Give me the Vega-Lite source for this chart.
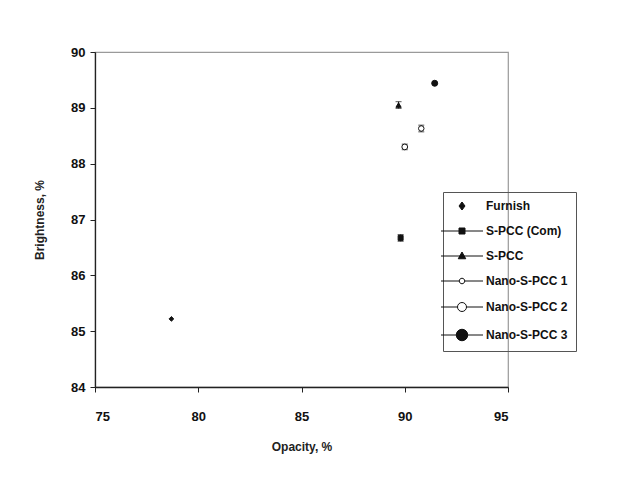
{
  "$schema": "https://vega.github.io/schema/vega-lite/v6.json",
  "width": 413,
  "height": 335,
  "autosize": {"type": "none"},
  "padding": {"left": 95, "top": 52, "right": 123, "bottom": 101},
  "background": "white",
  "data": {
    "values": [
      {"sample": "Furnish", "opacity": 78.7, "brightness": 85.22, "err": 0},
      {"sample": "S-PCC (Com)", "opacity": 89.8, "brightness": 86.67, "err": 0.06},
      {"sample": "S-PCC", "opacity": 89.7, "brightness": 89.05, "err": 0.06},
      {"sample": "Nano-S-PCC 1", "opacity": 90.8, "brightness": 88.63, "err": 0.06},
      {"sample": "Nano-S-PCC 2", "opacity": 90.0, "brightness": 88.3, "err": 0.05},
      {"sample": "Nano-S-PCC 3", "opacity": 91.45, "brightness": 89.44, "err": 0}
    ]
  },
  "config": {
    "font": "Liberation Sans",
    "view": {"stroke": "#9a9a9a", "strokeWidth": 1.2},
    "axis": {
      "grid": false,
      "domainColor": "#222",
      "domainWidth": 1.3,
      "tickColor": "#222",
      "tickSize": 5,
      "labelFont": "Liberation Sans",
      "labelFontSize": 13,
      "labelFontWeight": "bold",
      "labelColor": "#111",
      "titleFont": "Liberation Sans",
      "titleFontSize": 12,
      "titleFontWeight": "bold",
      "titleColor": "#222"
    }
  },
  "resolve": {"scale": {"shape": "independent", "fill": "independent", "size": "independent", "stroke": "independent"}},
  "layer": [
    {
      "transform": [{"filter": "datum.err > 0"}],
      "mark": {"type": "errorbar", "ticks": {"size": 6, "color": "#111"}, "color": "#111"},
      "encoding": {
        "x": {"field": "opacity", "type": "quantitative", "title": "Opacity, %"},
        "y": {"field": "brightness", "type": "quantitative", "title": "Brightness, %"},
        "yError": {"field": "err"}
      }
    },
    {
      "mark": {"type": "point", "filled": true, "stroke": "#111", "strokeWidth": 1, "opacity": 1},
      "encoding": {
        "x": {
          "field": "opacity",
          "type": "quantitative",
          "scale": {"domain": [75, 95], "nice": false, "zero": false},
          "axis": {"values": [75, 80, 85, 90, 95], "format": "d", "labelPadding": 18, "titlePadding": 18, "title": "Opacity, %"}
        },
        "y": {
          "field": "brightness",
          "type": "quantitative",
          "scale": {"domain": [84, 90], "nice": false, "zero": false},
          "axis": {"values": [84, 85, 86, 87, 88, 89, 90], "format": "d", "labelPadding": 5, "titlePadding": 24, "title": "Brightness, %"}
        },
        "shape": {
          "field": "sample",
          "type": "nominal",
          "legend": null,
          "scale": {
            "domain": ["Furnish", "S-PCC (Com)", "S-PCC", "Nano-S-PCC 1", "Nano-S-PCC 2", "Nano-S-PCC 3"],
            "range": ["diamond", "square", "triangle-up", "circle", "circle", "circle"]
          }
        },
        "fill": {
          "field": "sample",
          "type": "nominal",
          "legend": null,
          "scale": {
            "domain": ["Furnish", "S-PCC (Com)", "S-PCC", "Nano-S-PCC 1", "Nano-S-PCC 2", "Nano-S-PCC 3"],
            "range": ["#111", "#111", "#111", "white", "white", "#111"]
          }
        },
        "size": {
          "field": "sample",
          "type": "nominal",
          "legend": null,
          "scale": {
            "domain": ["Furnish", "S-PCC (Com)", "S-PCC", "Nano-S-PCC 1", "Nano-S-PCC 2", "Nano-S-PCC 3"],
            "range": [22, 36, 40, 30, 60, 95]
          }
        }
      }
    },
    {
      "mark": {"type": "point", "filled": true, "strokeWidth": 1, "opacity": 0, "size": 64},
      "encoding": {
        "x": {"field": "opacity", "type": "quantitative"},
        "y": {"field": "brightness", "type": "quantitative"},
        "shape": {
          "field": "sample",
          "type": "nominal",
          "title": null,
          "scale": {
            "domain": ["Furnish", "S-PCC (Com)", "S-PCC", "Nano-S-PCC 1", "Nano-S-PCC 2", "Nano-S-PCC 3"],
            "range": [
              "M0,-0.8L0.6,0L0,0.8L-0.6,0Z",
              "M-4.2,0H4.2M-0.6,-0.6H0.6V0.6H-0.6Z",
              "M-4.2,0H4.2M0,-0.8L0.75,0.55H-0.75Z",
              "M-4.2,0H-0.55M0.55,0H4.2M0.55,0A0.55,0.55 0 1 1 -0.55,0A0.55,0.55 0 1 1 0.55,0Z",
              "M-4.2,0H-0.9M0.9,0H4.2M0.9,0A0.9,0.9 0 1 1 -0.9,0A0.9,0.9 0 1 1 0.9,0Z",
              "M-4.2,0H4.2M1.15,0A1.15,1.15 0 1 1 -1.15,0A1.15,1.15 0 1 1 1.15,0Z"
            ]
          },
          "legend": {
            "orient": "none",
            "legendX": 348,
            "legendY": 140,
            "strokeColor": "#555",
            "padding": 8,
            "rowPadding": 13,
            "symbolOffset": 5,
            "labelOffset": 18,
            "symbolOpacity": 1,
            "symbolStrokeWidth": 1,
            "labelFont": "Liberation Sans",
            "labelFontSize": 12,
            "labelFontWeight": "bold",
            "labelColor": "#111",
            "labelLimit": 200
          }
        },
        "fill": {
          "field": "sample",
          "type": "nominal",
          "title": null,
          "scale": {
            "domain": ["Furnish", "S-PCC (Com)", "S-PCC", "Nano-S-PCC 1", "Nano-S-PCC 2", "Nano-S-PCC 3"],
            "range": ["#111", "#111", "#111", "white", "white", "#111"]
          }
        },
        "stroke": {
          "field": "sample",
          "type": "nominal",
          "title": null,
          "scale": {
            "domain": ["Furnish", "S-PCC (Com)", "S-PCC", "Nano-S-PCC 1", "Nano-S-PCC 2", "Nano-S-PCC 3"],
            "range": ["#111", "#111", "#111", "#111", "#111", "#111"]
          }
        }
      }
    }
  ]
}
